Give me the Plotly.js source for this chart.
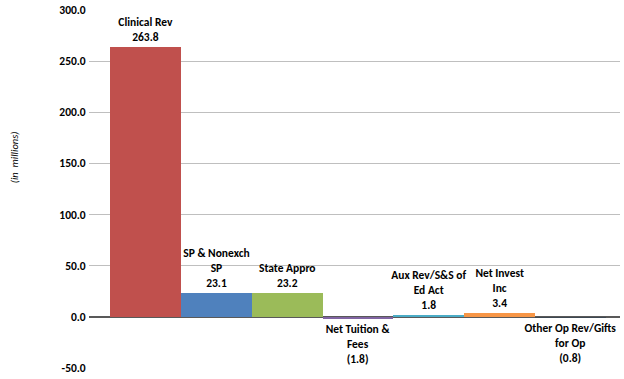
<!DOCTYPE html>
<html>
<head>
<meta charset="utf-8">
<script src="https://cdn.plot.ly/plotly-3.0.1.min.js"></script>
<style>html,body{margin:0;padding:0;background:#fff;}#chart{width:624px;height:379px;}</style>
</head>
<body>
<div id="chart"></div>
<script>
const categories = ["Clinical Rev", "SP & Nonexch SP", "State Appro", "Net Tuition & Fees", "Aux Rev/S&S of Ed Act", "Net Invest Inc", "Other Op Rev/Gifts for Op"];
const labelLines = ["Clinical Rev", "SP & Nonexch<br>SP", "State Appro", "Net Tuition &<br>Fees", "Aux Rev/S&S of<br>Ed Act", "Net Invest<br>Inc", "Other Op Rev/Gifts<br>for Op"];
const values = [263.8, 23.1, 23.2, -1.8, 1.8, 3.4, -0.8];
const colors = ["#C0504D", "#4F81BD", "#9BBB59", "#8064A2", "#4BACC6", "#F79646", "#3D4852"];
const yTicks = [-50, 0, 50, 100, 150, 200, 250, 300];

const fmt = v => v < 0 ? "(" + Math.abs(v).toFixed(1) + ")" : v.toFixed(1);
const xs = categories.map((c, i) => i);
const FONT = "Carlito, Calibri, 'Open Sans', sans-serif";

const trace = {
  type: "bar",
  x: xs,
  y: values,
  width: 1,
  marker: {color: colors, line: {width: 0}},
  text: values.map((v, i) => labelLines[i] + "<br>" + fmt(v)),
  textposition: "outside",
  constraintext: "none",
  cliponaxis: false,
  textfont: {family: FONT, size: 11.5, color: "#000", weight: 700},
  hoverinfo: "skip"
};

const layout = {
  width: 624, height: 379,
  margin: {l: 89, r: 4, t: 10, b: 11},
  paper_bgcolor: "#fff", plot_bgcolor: "#fff",
  showlegend: false,
  font: {family: FONT},
  xaxis: {range: [-0.8, 6.7], showticklabels: false, showgrid: false, zeroline: false, ticks: "", fixedrange: true},
  yaxis: {
    range: [-50, 300], tickvals: yTicks, ticktext: yTicks.map(v => v.toFixed(1)),
    tickfont: {size: 11.5, color: "#000", weight: 700, family: FONT},
    showgrid: true, gridcolor: "#BFBFBF", gridwidth: 1,
    zeroline: true, zerolinecolor: "#595959", zerolinewidth: 2,
    ticks: "outside", ticklen: 0, automargin: false
  },
  annotations: [{
    text: "(in  millions)", xref: "paper", yref: "paper", x: -0.141, y: 0.589,
    textangle: -90, showarrow: false, xanchor: "center", yanchor: "middle",
    font: {size: 10.5, style: "italic", color: "#000", family: FONT}
  }],
  bargap: 0
};

Plotly.newPlot("chart", [trace], layout, {displayModeBar: false, staticPlot: true});
</script>
</body>
</html>
